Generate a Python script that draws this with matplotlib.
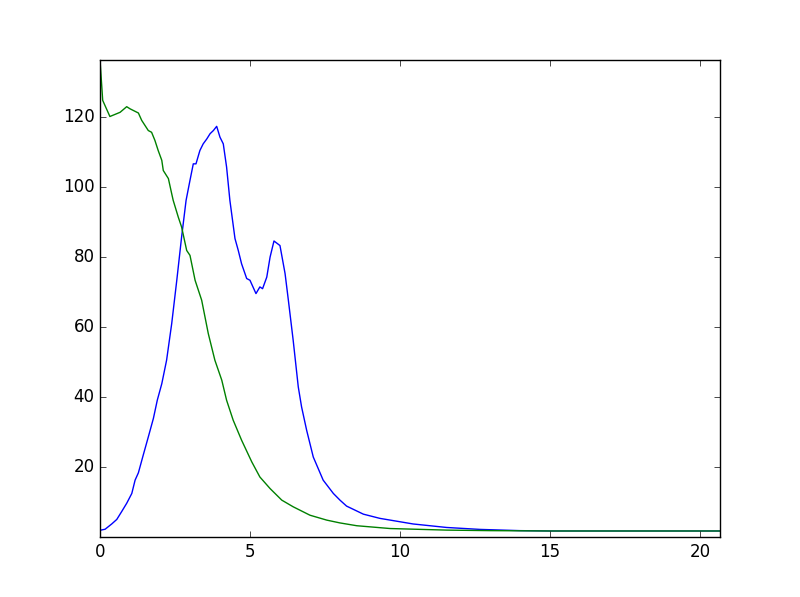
import matplotlib
matplotlib.use("Agg")
import matplotlib.pyplot as plt

plt.style.use('classic')

# blue curve
x_blue = [0, 0.17, 0.39, 0.56, 0.72, 0.89, 1.06, 1.17, 1.28, 1.44, 1.61, 1.78, 1.91, 2.06,
          2.22, 2.39, 2.56, 2.72, 2.87, 3.0, 3.11, 3.2, 3.33, 3.44, 3.56, 3.67, 3.78,
          3.89, 4.0, 4.11, 4.22, 4.33, 4.5, 4.61, 4.72, 4.89, 5.0, 5.2, 5.33, 5.42, 5.56,
          5.67, 5.8, 6.0, 6.17, 6.28, 6.44, 6.61, 6.72, 6.89, 7.11, 7.44, 7.78, 8.0, 8.22,
          8.78, 9.33, 10.44, 11.56, 12.67, 14, 15, 20.67]
y_blue = [2.0, 2.3, 3.8, 5.1, 7.3, 9.7, 12.5, 16.3, 18.4, 23.4, 28.6, 33.9, 39.1, 43.8,
          50.5, 60.9, 73.3, 85.6, 96.1, 101.8, 106.5, 106.5, 110.3, 112.2, 113.6,
          115.1, 116, 117.2, 114.1, 112.2, 105.6, 96.1, 85.2, 81.8, 78, 73.8, 73.3, 69.5,
          71.4, 70.9, 74.2, 79.9, 84.5, 83.2, 75.2, 67.6, 56.2, 42.9, 37.2, 30.5, 22.9, 16.3,
          12.5, 10.6, 8.9, 6.6, 5.4, 3.8, 2.8, 2.25, 1.9, 1.8, 1.8]

# green curve
x_green = [0, 0.09, 0.33, 0.67, 0.89, 1.0, 1.28, 1.39, 1.61, 1.72, 1.83, 1.94, 2.06, 2.11,
           2.28, 2.39, 2.44, 2.61, 2.72, 2.89, 3.0, 3.17, 3.39, 3.61, 3.83, 4.06, 4.22,
           4.44, 4.72, 5.06, 5.33, 5.67, 6.06, 6.44, 7.0, 7.56, 8.0, 8.56, 9.67, 11.56,
           13, 15, 20.67]
y_green = [136.2, 124.6, 120, 121.2, 122.8, 122.2, 121, 118.9, 116, 115.5, 113.2, 110.3,
           107.5, 104.6, 102.3, 98, 96.1, 91.3, 88.5, 81.8, 80.4, 73.3, 67.6, 58.1, 50.5,
           44.8, 39.1, 33.4, 27.7, 21.5, 17.2, 13.9, 10.6, 8.7, 6.3, 4.9, 4.1, 3.3, 2.5,
           2.05, 1.9, 1.8, 1.8]

fig = plt.figure(figsize=(8, 5.97), dpi=100)
ax = fig.add_subplot(111)
ax.plot(x_blue, y_blue, 'b-')
ax.plot(x_green, y_green, 'g-')
ax.set_xlim(0, 20.67)
ax.set_ylim(0, 136.2)
ax.set_yticks([20, 40, 60, 80, 100, 120])

fig.savefig('out.png', dpi=100)
